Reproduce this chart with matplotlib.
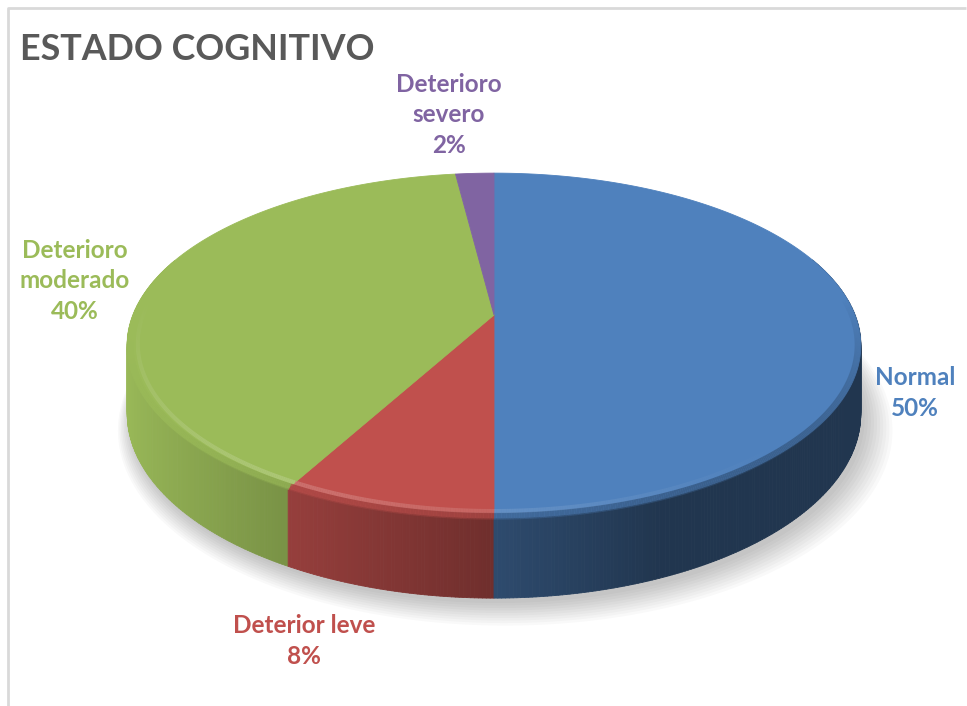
"""
3D pie chart (Excel style) for ESTADO COGNITIVO.
Walls and tops are built from the slice angles with a small perspective projection.
"""

import matplotlib.pyplot as plt
from matplotlib.collections import PolyCollection, LineCollection
from matplotlib.patches import Polygon
import numpy as np

# data
categories = ['Normal', 'Deterior leve', 'Deterioro moderado', 'Deterioro severo']
values = [50, 8, 40, 2]
label_texts = ['Normal\n50%', 'Deterior leve\n8%', 'Deterioro\nmoderado\n40%', 'Deterioro\nsevero\n2%']
colors = ['#4F81BD', '#C0504D', '#9BBB59', '#8064A2']

# layout (pixels)
W, H = 967, 706
CX, CY = 494, 315        # pie centre on screen
RX, RY = 361, 167        # radii of the top face
PERSP = 0.177            # perspective strength (front looks bigger)
DEPTH = 66               # thickness of the pie
label_pos = [(915, 393), (304, 641), (75, 281), (449, 115)]


def project(theta, r=1.0, z=0.0):
    """theta in degrees, clockwise from 12 o'clock; z=0 top face, z=1 bottom"""
    t = np.radians(theta)
    u = r * np.sin(t)
    v = -r * np.cos(t)
    s = 1.0 / (1.0 - PERSP * v)
    x = CX + RX * u * s
    y = CY + RY * v * s + DEPTH * z * s
    return x, y


def shade(color, f):
    rgb = np.array(plt.matplotlib.colors.to_rgb(color))
    if f >= 1:
        return tuple(rgb + (1 - rgb) * (f - 1))
    return tuple(rgb * f)


fig = plt.figure(figsize=(W / 100, H / 100), dpi=100)
ax = fig.add_axes([0, 0, 1, 1])
ax.set_xlim(0, W)
ax.set_ylim(H, 0)
ax.axis('off')

# chart border
ax.plot([8, 8, 966], [706, 8, 8], color='#d9d9d9', lw=2, solid_capstyle='butt', zorder=0)

# slice angles
total = float(sum(values))
edges = np.concatenate([[0], np.cumsum(values)]) / total * 360.0

# soft shadow under the pie
full = np.linspace(0, 360, 361)
for k in range(10):
    grow = 1.0 + 0.006 * k
    bx, by = project(full, r=grow, z=1.0)
    ax.add_patch(Polygon(np.column_stack([bx + 4 + k * 0.8, by + 5 + k * 0.9]),
                         closed=True, facecolor='#000000', edgecolor='none',
                         alpha=0.025, zorder=1))

# side walls
quads, qcols, depth_key = [], [], []
for i, col in enumerate(colors):
    a0, a1 = edges[i], edges[i + 1]
    n = max(int((a1 - a0) / 0.5), 2)
    ts = np.linspace(a0, a1, n + 1)
    for ta, tb in zip(ts[:-1], ts[1:]):
        tm = 0.5 * (ta + tb)
        vm = -np.cos(np.radians(tm))
        if vm < -0.35:
            continue
        um = np.sin(np.radians(tm))
        xa, ya = project(ta)
        xb, yb = project(tb)
        xc, yc = project(tb, z=1.0)
        xd, yd = project(ta, z=1.0)
        quads.append([(xa, ya), (xb, yb), (xc, yc), (xd, yd)])
        f = np.clip(0.58 - 0.42 * um, 0.42, 1.02)
        qcols.append(shade(col, f))
        depth_key.append(vm)

order = np.argsort(depth_key)
walls = PolyCollection([quads[j] for j in order], facecolors=[qcols[j] for j in order],
                       edgecolors=[qcols[j] for j in order], linewidths=0.6, zorder=2)
ax.add_collection(walls)

# top faces
for i, col in enumerate(colors):
    ts = np.linspace(edges[i], edges[i + 1], max(int(edges[i + 1] - edges[i]) * 2, 4))
    x, y = project(ts)
    pts = np.column_stack([np.concatenate([[CX], x]), np.concatenate([[CY], y])])
    ax.add_patch(Polygon(pts, closed=True, facecolor=col, edgecolor=col,
                         linewidth=0.6, zorder=3))

# bevel: dark rim band and a light highlight near the front edge
for i, col in enumerate(colors):
    ts = np.linspace(edges[i], edges[i + 1], max(int(edges[i + 1] - edges[i]) * 3, 4))
    segs_dark, cols_dark, segs_hi, cols_hi = [], [], [], []
    for ta, tb in zip(ts[:-1], ts[1:]):
        tm = 0.5 * (ta + tb)
        vm = -np.cos(np.radians(tm))
        um = np.sin(np.radians(tm))
        if vm < -0.1:
            continue
        w = np.clip(vm + 0.1, 0, 1)
        xa, ya = project(np.array([ta, tb]), r=0.993)
        segs_dark.append(np.column_stack([xa, ya]))
        fd = np.clip(0.75 - 0.25 * um, 0.5, 1.0)
        cols_dark.append(shade(col, fd) + (0.7 * w,))
        xh, yh = project(np.array([ta, tb]), r=0.972)
        segs_hi.append(np.column_stack([xh, yh]))
        a = np.clip(0.4 - 0.55 * um, 0.0, 0.6) * w
        cols_hi.append(shade(col, 1.3) + (a,))
    ax.add_collection(LineCollection(segs_dark, colors=cols_dark, linewidths=5, zorder=4,
                                     capstyle='butt'))
    ax.add_collection(LineCollection(segs_hi, colors=cols_hi, linewidths=3, zorder=5,
                                     capstyle='butt'))

# title
ax.text(20, 50, 'ESTADO COGNITIVO', fontsize=25.8, fontweight='bold', color='#595959',
        family='Lato', ha='left', va='center')

# data labels
for txt, (lx, ly), col in zip(label_texts, label_pos, colors):
    ax.text(lx, ly, txt, fontsize=17.5, fontweight='bold', color=col, family='Lato',
            ha='center', va='center', linespacing=1.42, zorder=6)

fig.savefig('out.png', dpi=100)
